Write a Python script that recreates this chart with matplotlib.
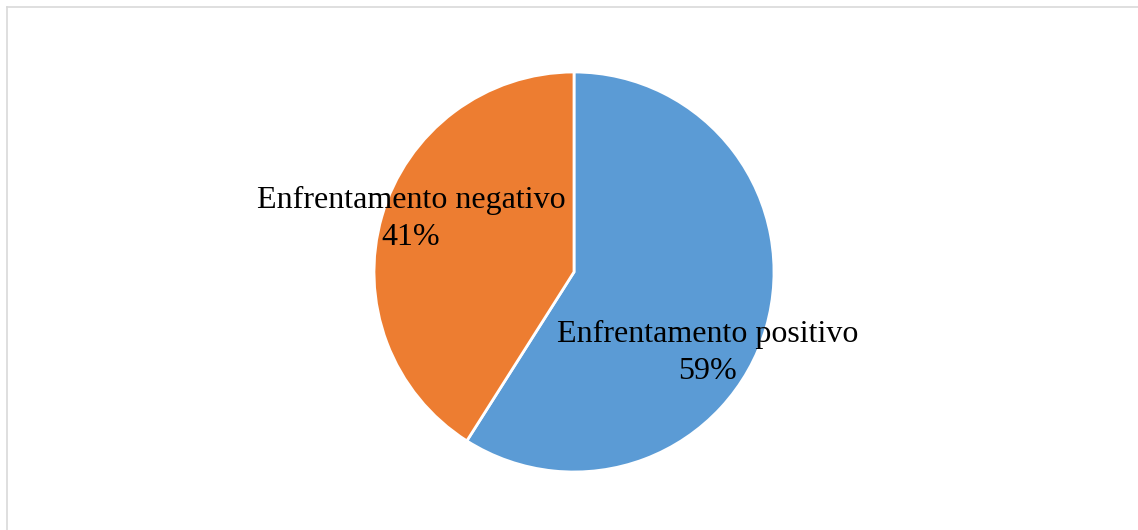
import numpy as np
import matplotlib.pyplot as plt
from matplotlib.lines import Line2D

# Data
categories = ["Enfrentamento positivo", "Enfrentamento negativo"]
shares = [59, 41]
colors = ["#5B9BD5", "#ED7D31"]

# label block centres in pie units (radius = 1)
label_pos = [(0.67, -0.403), (-0.815, 0.267)]

W, H = 1138, 530
fig = plt.figure(figsize=(W / 100, H / 100), dpi=100)

cx, cy, r = 574, 272, 200
ax = fig.add_axes([(cx - r) / W, (H - cy - r) / H, 2 * r / W, 2 * r / H])
ax.pie(shares, colors=colors, startangle=90, counterclock=False,
       radius=1, wedgeprops=dict(edgecolor="white", linewidth=2))
ax.set_xlim(-1, 1)
ax.set_ylim(-1, 1)
ax.set_aspect("equal")
ax.axis("off")

for name, val, (x, y) in zip(categories, shares, label_pos):
    ax.text(x, y, f"{name}\n{val}%", ha="center", va="center",
            multialignment="center", fontsize=23, linespacing=1.37,
            family="Liberation Serif", color="black", clip_on=False)

# light frame along the top and left edges
fig.add_artist(Line2D([7 / W, 1], [1 - 7 / H, 1 - 7 / H], color="#D9D9D9", lw=1.2))
fig.add_artist(Line2D([7 / W, 7 / W], [0, 1 - 7 / H], color="#D9D9D9", lw=1.2))

fig.savefig("out.png", dpi=100)
